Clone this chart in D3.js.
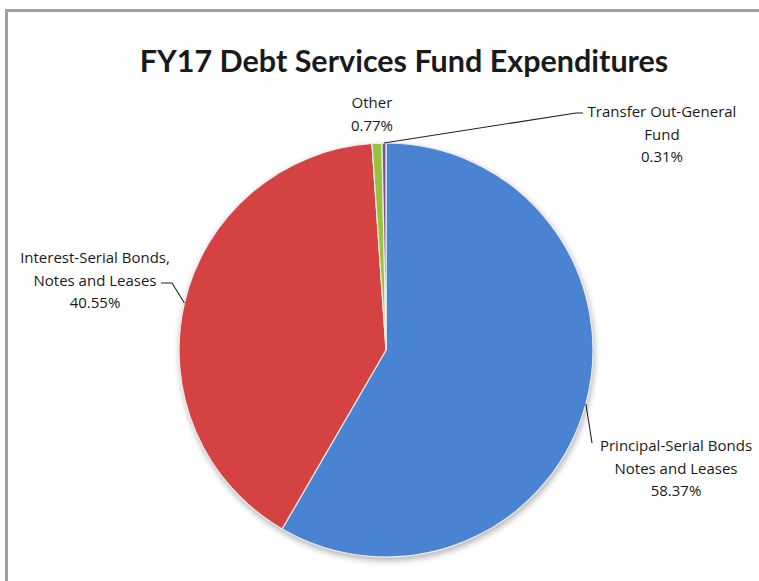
<!DOCTYPE html>
<html>
<head>
<meta charset="utf-8">
<script src="https://cdn.jsdelivr.net/npm/d3@7"></script>
<style>
  html, body { margin: 0; padding: 0; background: #ffffff; }
  svg { display: block; }
  text { fill: #1a1a1a; }
</style>
</head>
<body>
<svg id="chart" width="759" height="581"></svg>
<script>
// Expenditure categories and their share of the fund (percent)
const categories = [
  "Principal-Serial Bonds Notes and Leases",
  "Interest-Serial Bonds, Notes and Leases",
  "Other",
  "Transfer Out-General Fund"
];
const shares = [58.37, 40.55, 0.77, 0.31];
const labelLines = [
  ["Principal-Serial Bonds", "Notes and Leases"],
  ["Interest-Serial Bonds,", "Notes and Leases"],
  ["Other"],
  ["Transfer Out-General", "Fund"]
];
const sliceColors = ["#4e8de2", "#e44846", "#a2d042", "#7f5cac"];
const title = "FY17 Debt Services Fund Expenditures";

const svg = d3.select("#chart");
const W = 759, H = 581;
const cx = 386, cy = 350, R = 207;

// outer chart border (runs off the right and bottom edges)
svg.append("rect")
  .attr("x", 6.5).attr("y", 10.5)
  .attr("width", W + 10).attr("height", H + 10)
  .attr("fill", "#ffffff")
  .attr("stroke", "#a0a0a0").attr("stroke-width", 3);

svg.append("text")
  .attr("x", 404).attr("y", 72)
  .attr("text-anchor", "middle")
  .style("font-family", "Lato, 'Open Sans', sans-serif")
  .style("font-size", "30.5px").style("font-weight", "bold")
  .text(title);

const defs = svg.append("defs");
const shadow = defs.append("filter").attr("id", "shadow")
  .attr("color-interpolation-filters", "sRGB")
  .attr("x", "-10%").attr("y", "-10%").attr("width", "120%").attr("height", "120%");
shadow.append("feGaussianBlur").attr("in", "SourceAlpha").attr("stdDeviation", 3);
shadow.append("feOffset").attr("dx", 1).attr("dy", 3);
shadow.append("feComponentTransfer").append("feFuncA").attr("type", "linear").attr("slope", 0.3);
const merge = shadow.append("feMerge");
merge.append("feMergeNode");
merge.append("feMergeNode").attr("in", "SourceGraphic");

sliceColors.forEach((c, i) => {
  const g = defs.append("radialGradient").attr("id", "grad" + i)
    .attr("gradientUnits", "userSpaceOnUse")
    .attr("cx", cx).attr("cy", cy).attr("r", R);
  g.append("stop").attr("offset", "0%").attr("stop-color", c);
  g.append("stop").attr("offset", "94%").attr("stop-color", c);
  g.append("stop").attr("offset", "100%").attr("stop-color", d3.color(c).darker(0.2).formatHex());
});

const data = categories.map((name, i) => ({ name, value: shares[i], i }));
const pie = d3.pie().sort(null).value(d => d.value);
const arcs = pie(data);
const arc = d3.arc().innerRadius(0).outerRadius(R);

const pieG = svg.append("g").attr("transform", `translate(${cx},${cy})`);
pieG.append("g").attr("filter", "url(#shadow)")
  .selectAll("path").data(arcs).join("path")
  .attr("d", arc)
  .attr("fill", d => `url(#grad${d.data.i})`)
  .attr("stroke", "#eeeeee").attr("stroke-width", 1.2)
  .attr("stroke-linejoin", "round");

// label blocks: centre x, first baseline y, and leader end point (if any)
const labelLayout = [
  { x: 676, y: 451, lead: [[592, 443]] },
  { x: 95, y: 263, lead: [[172, 283], [161, 283]] },
  { x: 372, y: 108, lead: null },
  { x: 662, y: 117, lead: [[576, 113], [583, 113]] }
];
const edge = a => [cx + R * Math.sin(a), cy - R * Math.cos(a)];

arcs.forEach((d, k) => {
  const L = labelLayout[k];
  const lines = labelLines[k].concat([d3.format(".2f")(d.data.value) + "%"]);
  const t = svg.append("text")
    .attr("text-anchor", "middle")
    .style("font-family", "'Open Sans', Lato, sans-serif")
    .style("font-size", "15px");
  lines.forEach((s, j) => {
    t.append("tspan").attr("x", L.x).attr("y", L.y + j * 22.5).text(s);
  });
  if (L.lead) {
    const mid = (d.startAngle + d.endAngle) / 2;
    const pts = [edge(mid)].concat(L.lead);
    svg.append("path")
      .attr("d", d3.line()(pts))
      .attr("fill", "none")
      .attr("stroke", "#222").attr("stroke-width", 1.1);
  }
});
</script>
</body>
</html>
